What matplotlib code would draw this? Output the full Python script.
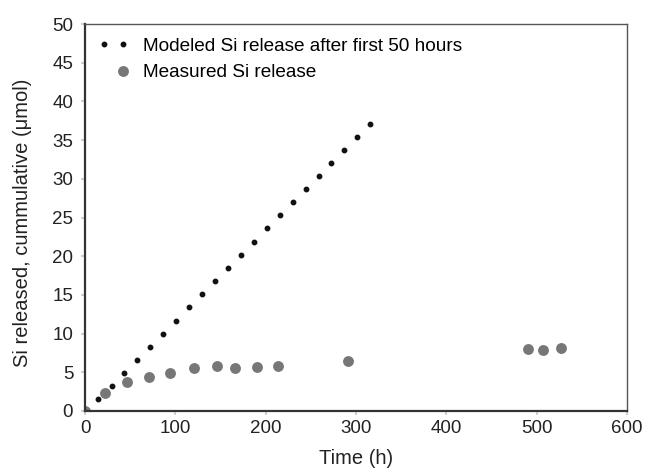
import matplotlib
matplotlib.use('Agg')
import matplotlib.pyplot as plt
from matplotlib.legend_handler import HandlerLine2D

plt.rcParams['font.family'] = ['Liberation Sans', 'DejaVu Sans']

# modeled release (small black dots)
t_model = [14.8, 29.7, 43.7, 58.1, 72.2, 86.7, 101.1, 115.2, 129.7, 144.1, 158.1,
           172.6, 187.0, 201.1, 215.6, 230.0, 244.1, 258.6, 272.6, 287.0, 301.1, 315.6]
si_model = [1.52, 3.21, 4.90, 6.62, 8.31, 10.0, 11.69, 13.38, 15.06, 16.75, 18.48,
            20.17, 21.86, 23.6, 25.32, 26.97, 28.66, 30.39, 32.04, 33.77, 35.45, 37.14]

# measured release (grey dots)
t_meas = [0, 22.2, 46.3, 70.4, 94.4, 120.4, 146.3, 166.3, 190.0, 213.7, 290.7, 490.0, 507.4, 527.4]
si_meas = [0, 2.3, 3.73, 4.42, 4.97, 5.58, 5.84, 5.5, 5.62, 5.84, 6.49, 7.96, 7.92, 8.18]

grey = '#777777'


class RightDot(HandlerLine2D):
    # one legend marker at the right end of the handle
    def get_xdata(self, legend, xdescent, ydescent, width, height, fontsize):
        x = -xdescent + width - self._marker_pad * fontsize
        return [x], [x]


fig = plt.figure(figsize=(6.46, 4.71), dpi=100)
ax = fig.add_axes([0.1316, 0.1274, 0.839, 0.8216])

l1, = ax.plot(t_model, si_model, linestyle='none', marker='o', ms=3.2,
              color='#111111', label='Modeled Si release after first 50 hours', zorder=3)
l2, = ax.plot(t_meas, si_meas, linestyle='none', marker='o', ms=6.8,
              color=grey, label='Measured Si release', zorder=2)

ax.set_xlim(0, 600)
ax.set_ylim(0, 50)
ax.set_xticks(range(0, 601, 100))
ax.set_yticks(range(0, 51, 5))
ax.tick_params(axis='both', labelsize=13.5, color='#d0d0d0', length=3, width=1.5,
               labelcolor='#222222')
ax.tick_params(axis='y', pad=5.5)
ax.tick_params(axis='x', pad=3.5)

for side in ['left', 'bottom']:
    ax.spines[side].set_color('#333333')
    ax.spines[side].set_linewidth(1.6)
for side in ['top', 'right']:
    ax.spines[side].set_color('#555555')
    ax.spines[side].set_linewidth(1.0)

ax.set_xlabel('Time (h)', fontsize=14.5, color='#222222')
ax.set_ylabel('Si released, cummulative (\u03bcmol)', fontsize=14.5, color='#222222')
ax.xaxis.set_label_coords(0.5, -0.098)
ax.yaxis.set_label_coords(-0.098, 0.485)

ax.legend(handles=[l1, l2], loc='upper left', frameon=False, fontsize=13.7,
          handlelength=1.6, handletextpad=0.75, labelspacing=0.5,
          borderaxespad=0.3, bbox_to_anchor=(0.0, 1.0),
          handler_map={l1: HandlerLine2D(numpoints=2), l2: RightDot(numpoints=2)})

fig.savefig('out.png', dpi=100)
